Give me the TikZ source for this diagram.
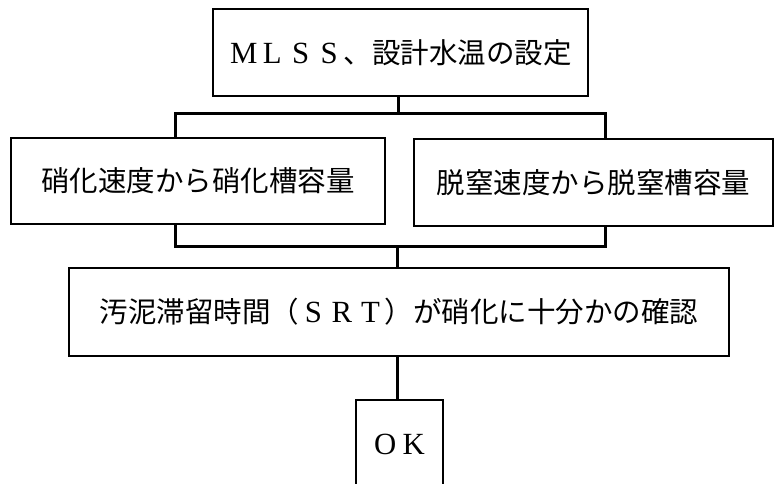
\documentclass[tikz,border=0pt]{standalone}
\usepackage{fontspec}
\newfontfamily\cjk{Noto Sans CJK JP}
\newfontfamily\lat[Scale=1.08]{Liberation Serif}
\newcommand\fw[1]{\makebox[1em]{\lat #1}}
\begin{document}
\begin{tikzpicture}[x=1pt,y=-1pt,
  box/.style={draw=black,line width=1.2pt,rectangle,inner sep=0pt,
    font=\cjk\fontsize{28.5}{31}\selectfont},
  conn/.style={draw=black,line width=3pt,line cap=rect}]
\useasboundingbox (0,0) rectangle (776,484);
\fill[white] (0,0) rectangle (776,484);
\clip (0,0) rectangle (776,484);
\node[box,minimum width=375pt,minimum height=87pt] (top) at (400.5,52.5)
  {\fw{M}\fw{L}\fw{S}\fw{S}、設計水温の設定};
\node[box,minimum width=374pt,minimum height=86pt] (L) at (198,181)
  {硝化速度から硝化槽容量};
\node[box,minimum width=359pt,minimum height=87pt] (R) at (593.5,182.5)
  {脱窒速度から脱窒槽容量};
\node[box,minimum width=660pt,minimum height=88pt] (S) at (399,312)
  {汚泥滞留時間（\fw{S}\fw{R}\fw{T}）が硝化に十分かの確認};
\node[box,minimum width=87pt,minimum height=88pt] (ok) at (399.5,444)
  {\fw{O}\fw{K}};
\coordinate (bl) at (175,114);
\coordinate (br) at (605,114);
\coordinate (cl) at (175,246);
\coordinate (cr) at (605,246);
\coordinate (cm) at (397,246);
\draw[conn] (top.south -| 398,0) -- (398,114);
\draw[conn] (bl |- L.north) -- (bl) -- (br) -- (br |- R.north);
\draw[conn] (cl |- L.south) -- (cl) -- (cr) -- (cr |- R.south);
\draw[conn] (cm) -- (cm |- S.north);
\draw[conn] (cm |- S.south) -- (cm |- ok.north);
\end{tikzpicture}
\end{document}
